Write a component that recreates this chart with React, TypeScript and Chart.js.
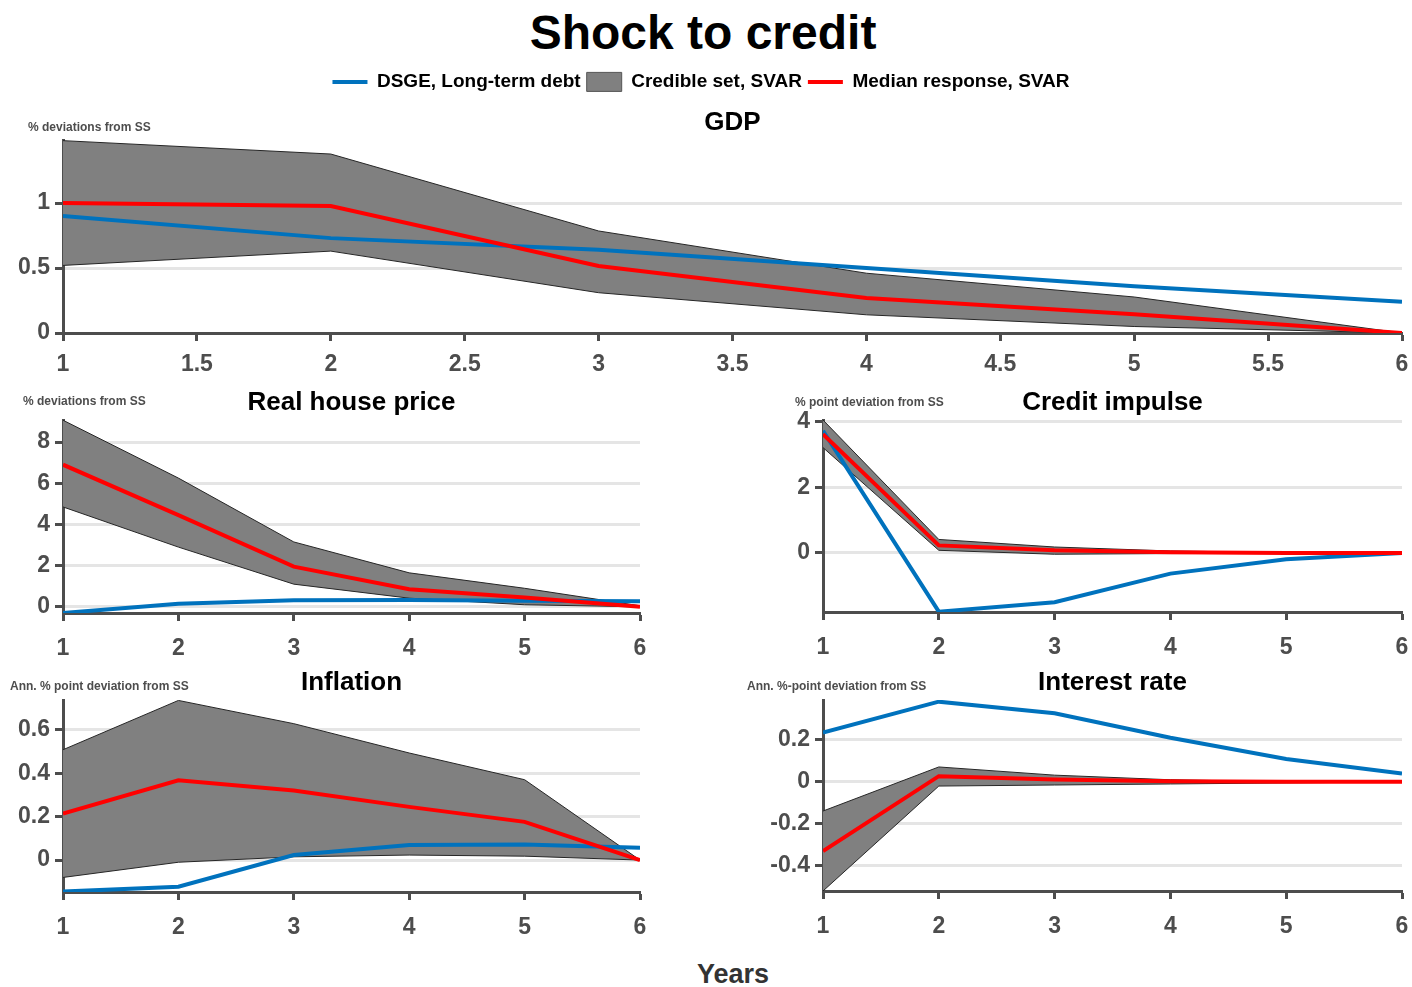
import React, { useEffect, useRef } from "react";
import { Chart, registerables } from "chart.js";

Chart.register(...registerables);

// ---------------- DATA ----------------
const years = [1, 2, 3, 4, 5, 6];
const gdpXTicks = [1, 1.5, 2, 2.5, 3, 3.5, 4, 4.5, 5, 5.5, 6];
const yearXTicks = [1, 2, 3, 4, 5, 6];

const legendTexts = ["DSGE, Long-term debt", "Credible set, SVAR", "Median response, SVAR"];

// GDP
const gdpDsge = [0.9, 0.73, 0.64, 0.5, 0.36, 0.24];
const gdpUpper = [1.48, 1.377, 0.785, 0.46, 0.277, 0.0];
const gdpLower = [0.52, 0.63, 0.31, 0.14, 0.05, 0.0];
const gdpMedian = [1.0, 0.977, 0.515, 0.27, 0.145, 0.0];
const gdpYTicks = [0, 0.5, 1];

// Real house price
const rhpDsge = [-0.3, 0.15, 0.32, 0.33, 0.3, 0.27];
const rhpUpper = [9.06, 6.25, 3.15, 1.65, 0.9, 0.05];
const rhpLower = [4.85, 2.9, 1.1, 0.42, 0.1, 0.0];
const rhpMedian = [6.9, 4.45, 1.95, 0.85, 0.45, 0.0];
const rhpYTicks = [0, 2, 4, 6, 8];

// Credit impulse
const ciDsge = [3.72, -1.79, -1.5, -0.63, -0.19, 0.0];
const ciUpper = [4.05, 0.41, 0.18, 0.06, 0.01, 0.0];
const ciLower = [3.21, 0.08, -0.04, -0.02, -0.01, 0.0];
const ciMedian = [3.62, 0.23, 0.08, 0.02, 0.0, 0.0];
const ciYTicks = [0, 2, 4];

// Inflation
const infDsge = [-0.145, -0.123, 0.023, 0.069, 0.072, 0.057];
const infUpper = [0.508, 0.735, 0.628, 0.493, 0.37, 0.0];
const infLower = [-0.08, -0.01, 0.015, 0.023, 0.018, 0.0];
const infMedian = [0.214, 0.367, 0.32, 0.245, 0.176, 0.0];
const infYTicks = [0, 0.2, 0.4, 0.6];

// Interest rate
const irDsge = [0.235, 0.382, 0.327, 0.21, 0.109, 0.04];
const irUpper = [-0.139, 0.071, 0.032, 0.01, 0.0, 0.0];
const irLower = [-0.52, -0.02, -0.015, -0.01, -0.005, 0.0];
const irMedian = [-0.33, 0.027, 0.011, 0.003, 0.0, 0.0];
const irYTicks = [-0.4, -0.2, 0, 0.2];

// ---------------- STYLE / LAYOUT ----------------
const FONT = "'Liberation Sans', Arial, Helvetica, sans-serif";
const BLUE = "#0072bd";
const RED = "#ff0000";
const BAND = "#808080";
const BAND_EDGE = "#262626";
const AXIS = "#4d4d4d";
const GRID = "#e5e5e5";

type Panel = {
  title: string;
  ylabel: string;
  dsge: number[];
  upper: number[];
  lower: number[];
  median: number[];
  yTicks: number[];
  xTicks: number[];
  yMin: number;
  yMax: number;
  plot: { left: number; right: number; top: number; bottom: number };
  canvasLeft: number;
  canvasRight: number;
  ylabelAt: { x: number; y: number };
  xLabelPad: number;
  legend: boolean;
};

const panels: Panel[] = [
  {
    title: "GDP", ylabel: "% deviations from SS",
    dsge: gdpDsge, upper: gdpUpper, lower: gdpLower, median: gdpMedian,
    yTicks: gdpYTicks, xTicks: gdpXTicks, yMin: 0, yMax: 1.485,
    plot: { left: 63, right: 1402, top: 140, bottom: 333 },
    canvasLeft: 0, canvasRight: 1412, ylabelAt: { x: 28, y: 128 }, xLabelPad: 10, legend: true,
  },
  {
    title: "Real house price", ylabel: "% deviations from SS",
    dsge: rhpDsge, upper: rhpUpper, lower: rhpLower, median: rhpMedian,
    yTicks: rhpYTicks, xTicks: yearXTicks, yMin: -0.3, yMax: 9.07,
    plot: { left: 63, right: 640, top: 420, bottom: 613 },
    canvasLeft: 0, canvasRight: 650, ylabelAt: { x: 23, y: 402 }, xLabelPad: 14, legend: false,
  },
  {
    title: "Credit impulse", ylabel: "% point deviation from SS",
    dsge: ciDsge, upper: ciUpper, lower: ciLower, median: ciMedian,
    yTicks: ciYTicks, xTicks: yearXTicks, yMin: -1.8, yMax: 4.05,
    plot: { left: 823, right: 1402, top: 420, bottom: 612 },
    canvasLeft: 700, canvasRight: 1412, ylabelAt: { x: 795, y: 403 }, xLabelPad: 14, legend: false,
  },
  {
    title: "Inflation", ylabel: "Ann. % point deviation from SS",
    dsge: infDsge, upper: infUpper, lower: infLower, median: infMedian,
    yTicks: infYTicks, xTicks: yearXTicks, yMin: -0.147, yMax: 0.737,
    plot: { left: 63, right: 640, top: 700, bottom: 892 },
    canvasLeft: 0, canvasRight: 650, ylabelAt: { x: 10, y: 687 }, xLabelPad: 14, legend: false,
  },
  {
    title: "Interest rate", ylabel: "Ann. %-point deviation from SS",
    dsge: irDsge, upper: irUpper, lower: irLower, median: irMedian,
    yTicks: irYTicks, xTicks: yearXTicks, yMin: -0.52, yMax: 0.39,
    plot: { left: 823, right: 1402, top: 700, bottom: 891 },
    canvasLeft: 700, canvasRight: 1412, ylabelAt: { x: 747, y: 687 }, xLabelPad: 14, legend: false,
  },
];

const XH = 50; // x-axis band height
const PR = 10; // right padding
const TITLE_FS = 26;
const TITLE_PAD = { top: 6, bottom: 1.4 };
const TITLE_BLOCK = TITLE_PAD.top + TITLE_FS * 1.2 + TITLE_PAD.bottom;
const LEGEND_FS = 19;
const LEGEND_PAD = 6;
const LEGEND_H = LEGEND_FS + LEGEND_PAD + 10;

function canvasTop(p: Panel) {
  return p.legend ? 60 : p.plot.top - 45;
}

function pts(vals: number[]) {
  return years.map((x, i) => ({ x, y: vals[i] }));
}

function buildChart(canvas: HTMLCanvasElement, p: Panel) {
  const ct = canvasTop(p);
  const width = p.canvasRight - p.canvasLeft;
  const height = p.plot.bottom + XH - ct;
  canvas.width = width;
  canvas.height = height;
  canvas.style.width = width + "px";
  canvas.style.height = height + "px";
  const YW = p.plot.left - p.canvasLeft;
  const padTop = p.plot.top - ct - TITLE_BLOCK - (p.legend ? LEGEND_H : 0);

  const ylabelPlugin = {
    id: "ylabelText",
    afterDraw(chart: any) {
      const ctx = chart.ctx;
      ctx.save();
      ctx.font = `bold 12px ${FONT}`;
      ctx.fillStyle = AXIS;
      ctx.textAlign = "left";
      ctx.textBaseline = "middle";
      ctx.fillText(p.ylabel, p.ylabelAt.x - p.canvasLeft, p.ylabelAt.y - ct);
      ctx.restore();
    },
  };

  const tickFont = { family: FONT, size: 23, weight: "bold" as const };

  return new Chart(canvas, {
    type: "line",
    data: {
      datasets: [
        { label: legendTexts[2], data: pts(p.median), borderColor: RED, backgroundColor: RED, borderWidth: 4, pointRadius: 0, fill: false, tension: 0 },
        { label: legendTexts[0], data: pts(p.dsge), borderColor: BLUE, backgroundColor: BLUE, borderWidth: 4, pointRadius: 0, fill: false, tension: 0 },
        { label: "lower", data: pts(p.lower), borderColor: BAND_EDGE, borderWidth: 1, pointRadius: 0, fill: false, tension: 0 },
        { label: legendTexts[1], data: pts(p.upper), borderColor: BAND_EDGE, backgroundColor: BAND, borderWidth: 1, pointRadius: 0, fill: "-1", tension: 0 },
      ],
    },
    options: {
      responsive: false,
      animation: false,
      devicePixelRatio: 1,
      events: [],
      layout: { padding: { top: padTop, right: PR, bottom: 0, left: 0 } },
      plugins: {
        legend: p.legend
          ? {
              display: true,
              position: "top",
              labels: {
                font: { family: FONT, size: LEGEND_FS, weight: "bold" },
                color: "#000",
                usePointStyle: true,
                pointStyleWidth: 35,
                boxHeight: 20,
                padding: LEGEND_PAD,
                generateLabels: () => [
                  { text: legendTexts[0], pointStyle: "line", strokeStyle: BLUE, fillStyle: BLUE, lineWidth: 4, fontColor: "#000", hidden: false, datasetIndex: 1 },
                  { text: legendTexts[1], pointStyle: "rect", strokeStyle: "#555", fillStyle: BAND, lineWidth: 1, fontColor: "#000", hidden: false, datasetIndex: 3 },
                  { text: legendTexts[2], pointStyle: "line", strokeStyle: RED, fillStyle: RED, lineWidth: 4, fontColor: "#000", hidden: false, datasetIndex: 0 },
                ],
              },
            }
          : { display: false },
        title: {
          display: true,
          text: p.title,
          position: "top",
          fullSize: false,
          weight: 500,
          color: "#000",
          font: { family: FONT, size: TITLE_FS, weight: "bold" },
          padding: TITLE_PAD,
        },
        tooltip: { enabled: false },
      },
      scales: {
        x: {
          type: "linear",
          min: 1,
          max: 6,
          afterBuildTicks: (s: any) => {
            s.ticks = p.xTicks.map((v) => ({ value: v }));
          },
          afterFit: (s: any) => {
            s.height = XH;
            s.paddingLeft = 0;
            s.paddingRight = 0;
          },
          grid: { drawOnChartArea: false, drawTicks: true, tickLength: 8, tickWidth: 3, tickColor: AXIS },
          border: { display: true, color: AXIS, width: 3 },
          ticks: { font: tickFont, color: AXIS, padding: p.xLabelPad, maxRotation: 0, autoSkip: false, callback: (v: any) => String(v) },
        },
        y: {
          type: "linear",
          min: p.yMin,
          max: p.yMax,
          afterBuildTicks: (s: any) => {
            s.ticks = p.yTicks.map((v) => ({ value: v }));
          },
          afterFit: (s: any) => {
            s.width = YW;
            s.paddingTop = 0;
            s.paddingBottom = 0;
          },
          grid: { color: GRID, lineWidth: 3, drawTicks: true, tickLength: 8, tickWidth: 3, tickColor: AXIS },
          border: { display: true, color: AXIS, width: 3 },
          ticks: { font: tickFont, color: AXIS, padding: 5, callback: (v: any) => String(v) },
        },
      },
    } as any,
    plugins: [ylabelPlugin],
  });
}

export default function App() {
  const refs = useRef<(HTMLCanvasElement | null)[]>([]);

  useEffect(() => {
    const charts = panels.map((p, i) => buildChart(refs.current[i] as HTMLCanvasElement, p));
    return () => charts.forEach((c) => c.destroy());
  }, []);

  return (
    <div
      style={{
        position: "absolute",
        left: 0,
        top: 0,
        width: 1412,
        height: 987,
        overflow: "hidden",
        background: "#fff",
        fontFamily: FONT,
      }}
    >
      <div
        style={{
          position: "absolute",
          left: 0,
          top: 0,
          width: 1406,
          height: 66,
          lineHeight: "66px",
          textAlign: "center",
          fontSize: 48,
          fontWeight: "bold",
          color: "#000",
        }}
      >
        Shock to credit
      </div>
      {panels.map((p, i) => (
        <canvas
          key={p.title}
          ref={(el) => {
            refs.current[i] = el;
          }}
          style={{ position: "absolute", left: p.canvasLeft, top: canvasTop(p) }}
        />
      ))}
      <div
        style={{
          position: "absolute",
          left: 533,
          top: 956,
          width: 400,
          height: 36,
          lineHeight: "36px",
          textAlign: "center",
          fontSize: 27,
          fontWeight: "bold",
          color: "#333",
        }}
      >
        Years
      </div>
    </div>
  );
}
